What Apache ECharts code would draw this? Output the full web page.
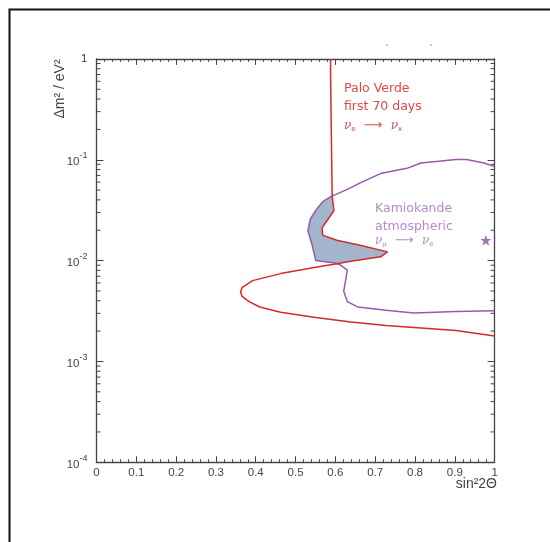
<!DOCTYPE html>
<html>
<head>
<meta charset="utf-8">
<script src="https://cdn.jsdelivr.net/npm/echarts@6/dist/echarts.min.js"></script>
<style>html,body{margin:0;padding:0;background:#fff;}#c{width:550px;height:542px;}</style>
</head>
<body>
<div id="c"></div>
<script>
// Palo Verde exclusion curve (sin^2 2θ, Δm^2)
const redX = [0.588,0.588,0.5915,0.592,0.5965,0.5815,0.5665,0.568,0.6035,0.665,0.731,0.7136,0.6387,0.6035,0.5506,0.4625,0.392,0.3656,0.362,0.3656,0.3833,0.41,0.4626,0.5507,0.639,0.727,0.815,0.903,1.0];
const redY = [1.0,0.666,0.66,0.0433,0.0314,0.0257,0.0211,0.0179,0.0159,0.0141,0.0122,0.0109,0.00984,0.0093,0.00859,0.00743,0.00633,0.0054,0.0049,0.00442,0.00392,0.00347,0.00308,0.00273,0.00246,0.00227,0.00215,0.00203,0.00179];
// Kamiokande atmospheric allowed contour
const purX = [1.0,0.9736,0.929,0.903,0.859,0.815,0.7797,0.7136,0.665,0.63,0.59,0.568,0.5507,0.537,0.531,0.542,0.5507,0.599,0.6123,0.63,0.6256,0.621,0.63,0.656,0.727,0.797,0.903,1.0];
const purY = [0.0855,0.0927,0.1004,0.1004,0.0964,0.0927,0.0822,0.0729,0.0597,0.0508,0.0433,0.0384,0.0314,0.0257,0.0198,0.0141,0.01,0.00946,0.00908,0.00805,0.00633,0.00498,0.00392,0.00347,0.00321,0.00303,0.00313,0.00318];
// Overlap region (filled)
const fillX = [0.592,0.568,0.5507,0.537,0.531,0.542,0.5507,0.600,0.6387,0.7136,0.731,0.665,0.6035,0.568,0.5665,0.5815,0.5965,0.592];
const fillY = [0.0433,0.0384,0.0314,0.0257,0.0198,0.0141,0.01,0.0094,0.00984,0.0109,0.0122,0.0141,0.0159,0.0179,0.0211,0.0257,0.0314,0.0433];
// best fit point
const starX = [0.978];
const starY = [0.0159];
// axis ticks
const xTickLabels = ['0','0.1','0.2','0.3','0.4','0.5','0.6','0.7','0.8','0.9','1'];
const yExponents = [-4,-3,-2,-1,0];
const yMinor = [2e-4,3e-4,4e-4,5e-4,6e-4,7e-4,8e-4,9e-4,2e-3,3e-3,4e-3,5e-3,6e-3,7e-3,8e-3,9e-3,2e-2,3e-2,4e-2,5e-2,6e-2,7e-2,8e-2,9e-2,0.2,0.3,0.4,0.5,0.6,0.7,0.8,0.9];

const RED = '#d42a2a', PURPLE = '#9659b0', FILL = '#a3b5cc', AX = '#444';
const chart = echarts.init(document.getElementById('c'), null, {renderer:'canvas'});

const zip = (xs, ys) => xs.map((x,i)=>[x, ys[i]]);

const xCommon = {
  type:'value', min:0, max:1, interval:0.1,
  axisLine:{show:true, onZero:false, lineStyle:{color:AX, width:1.3}},
  axisTick:{show:true, inside:true, length:6, lineStyle:{color:AX}},
  minorTick:{show:true, splitNumber:5, length:3, lineStyle:{color:AX}},
  splitLine:{show:false}, minorSplitLine:{show:false}
};
const yCommon = {
  type:'log', logBase:10, min:1e-4, max:1,
  axisLine:{show:true, onZero:false, lineStyle:{color:AX, width:1.3}},
  axisTick:{show:true, inside:true, length:7, lineStyle:{color:AX}},
  splitLine:{show:false}
};

chart.setOption({
  animation:false,
  backgroundColor:'#fff',
  grid:{left:96.5, right:55.4, top:58.9, bottom:79.7, containLabel:false},
  xAxis:[
    Object.assign({}, xCommon, {position:'bottom',
      axisLabel:{show:true, margin:5, color:AX, fontSize:11.5, fontFamily:'Liberation Sans',
        formatter:(v)=>xTickLabels[Math.round(v*10)]}}),
    Object.assign({}, xCommon, {position:'top', axisLabel:{show:false}})
  ],
  yAxis:[
    Object.assign({}, yCommon, {position:'left',
      axisLabel:{show:true, margin:9, color:AX, fontFamily:'Liberation Sans',
        formatter:(v)=>{const e=Math.round(Math.log10(v)); if(yExponents.indexOf(e)<0) return ''; return e===0 ? '{b|1}' : '{b|10}{s|'+e+'}';},
        rich:{b:{fontSize:11.5, color:AX, verticalAlign:'bottom', fontFamily:'Liberation Sans'}, s:{fontSize:9, color:AX, verticalAlign:'top', padding:[0,0,8,0], fontFamily:'Liberation Sans'}}}}),
    Object.assign({}, yCommon, {position:'right', axisLabel:{show:false}})
  ],
  series:[
    {type:'custom', name:'overlap', xAxisIndex:0, yAxisIndex:0, data:[0], silent:true, z:1,
      renderItem:(params, api)=>({type:'polygon', shape:{points: zip(fillX, fillY).map(p=>api.coord(p))}, style:{fill:FILL, stroke:null}})},
    {type:'custom', name:'yminor', xAxisIndex:0, yAxisIndex:0, data:yMinor.map(v=>[v]), silent:true, clip:false, z:3,
      renderItem:(params, api)=>{
        const v = api.value(0);
        const a = api.coord([0, v]), b = api.coord([1, v]);
        return {type:'group', children:[
          {type:'line', shape:{x1:a[0], y1:a[1], x2:a[0]+4, y2:a[1]}, style:{stroke:AX, lineWidth:1}},
          {type:'line', shape:{x1:b[0]-4, y1:b[1], x2:b[0], y2:b[1]}, style:{stroke:AX, lineWidth:1}}
        ]};
      }},
    {type:'line', name:'Kamiokande', data:zip(purX, purY), showSymbol:false, symbol:'none', smooth:false, z:4,
      lineStyle:{color:PURPLE, width:1.5}},
    {type:'line', name:'Palo Verde', data:zip(redX, redY), showSymbol:false, symbol:'none', smooth:false, z:5,
      lineStyle:{color:RED, width:1.5}},
    {type:'scatter', name:'best fit', data:zip(starX, starY), z:6,
      symbol:'path://M0,-10L2.35,-3.24L9.51,-3.09L3.8,1.24L5.88,8.09L0,4L-5.88,8.09L-3.8,1.24L-9.51,-3.09L-2.35,-3.24Z',
      symbolSize:11, itemStyle:{color:'#8e4fa8'}}
  ],
  graphic:[
    {type:'rect', shape:{x:9.5, y:9.5, width:700, height:700}, style:{fill:null, stroke:'#111', lineWidth:2}, silent:true},
    {type:'rect', shape:{x:386, y:44.5, width:2, height:1}, style:{fill:'#999'}},
    {type:'rect', shape:{x:430, y:44.5, width:2, height:1}, style:{fill:'#999'}},
    {type:'text', x:60, y:89, rotation:Math.PI/2, style:{text:'Δm² / eV²', font:'14px "Liberation Sans"', fill:AX, textAlign:'center', textVerticalAlign:'middle'}},
    {type:'text', x:497, y:484, style:{text:'sin²2Θ', font:'14px "Liberation Sans"', fill:AX, textAlign:'right', textVerticalAlign:'middle'}},
    {type:'text', x:344, y:89, style:{text:'Palo Verde', font:'12.5px "DejaVu Sans"', fill:'#e04848', textVerticalAlign:'middle'}},
    {type:'text', x:344, y:107, style:{text:'first 70 days', font:'12.5px "DejaVu Sans"', fill:'#e04848', textVerticalAlign:'middle'}},
    {type:'text', x:344, y:126, style:{text:'{n|ν}{d|e}{a|  ⟶  }{n|ν}{d|x}', fill:'#e04848', textVerticalAlign:'middle',
      rich:{n:{font:'italic 12px "DejaVu Serif"', fill:'#e04848'}, d:{font:'7px "DejaVu Sans"', fill:'#e04848', verticalAlign:'bottom'}, a:{font:'13px "DejaVu Sans"', fill:'#e04848'}}}},
    {type:'text', x:375, y:209, style:{text:'Kamiokande', font:'12.5px "DejaVu Sans"', fill:'#b58bc8', textVerticalAlign:'middle'}},
    {type:'text', x:375, y:227, style:{text:'atmospheric', font:'12.5px "DejaVu Sans"', fill:'#b58bc8', textVerticalAlign:'middle'}},
    {type:'text', x:375, y:241, style:{text:'{n|ν}{d|μ}{a|  ⟶  }{n|ν}{d|e}', fill:'#b58bc8', textVerticalAlign:'middle',
      rich:{n:{font:'italic 12px "DejaVu Serif"', fill:'#b58bc8'}, d:{font:'7px "DejaVu Sans"', fill:'#b58bc8', verticalAlign:'bottom'}, a:{font:'13px "DejaVu Sans"', fill:'#b58bc8'}}}}
  ]
});
</script>
</body>
</html>
